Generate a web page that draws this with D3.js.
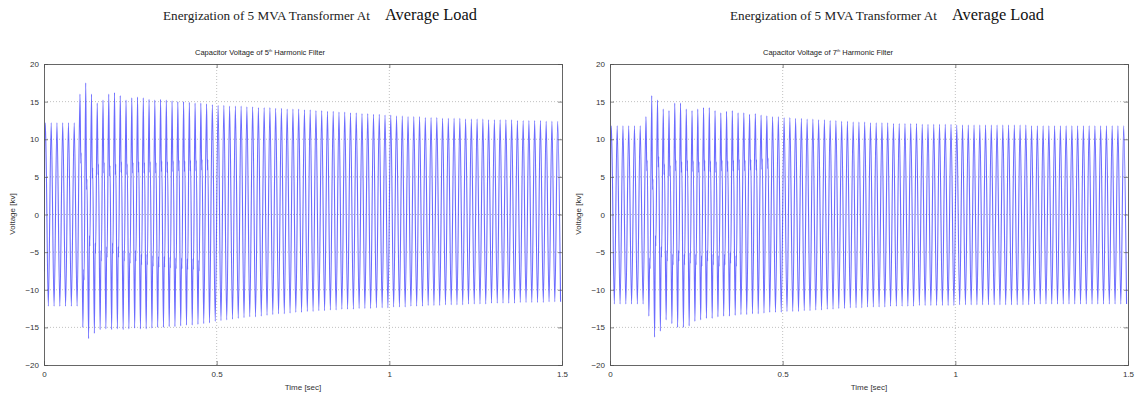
<!DOCTYPE html>
<html>
<head>
<meta charset="utf-8">
<script src="https://cdn.jsdelivr.net/npm/d3@7"></script>
<style>
  body { margin: 0; background: #fff; }
  svg { display: block; }
  .tick text { font-family: "Liberation Sans", Arial, sans-serif; font-size: 8px; fill: #333; }
</style>
</head>
<body>
<svg id="graph" width="1136" height="398"></svg>
<script>
// capacitor voltage, read per 60 Hz cycle off the scope traces (kV)
var freq = 60;
var xTicks = [0, 0.5, 1, 1.5];
var yTicks = [-20, -15, -10, -5, 0, 5, 10, 15, 20];

var start5 = [6.5, -7.5, 0];
var peaks5 = [12.2, 12.2, 12.2, 12.2, 12.2, 12.2,
  16.0, 17.5, 16.0, 14.8,
  15.2, 16.0, 16.2, 15.8, 15.2, 15.5, 15.6, 15.5, 15.3, 15.2,
  15.3, 15.2, 15.1, 15.0, 15.0, 14.9, 14.8, 14.8, 14.7, 14.6,
  14.5, 14.5, 14.4, 14.4, 14.4, 14.3, 14.3, 14.2, 14.2, 14.2,
  14.1, 14.1, 14.0, 14.0, 14.0, 13.9, 13.9, 13.8, 13.8, 13.7,
  13.7, 13.6, 13.6, 13.5, 13.5, 13.4, 13.4, 13.3, 13.3, 13.2,
  13.2, 13.1, 13.1, 13.0, 13.0, 13.0, 12.9, 12.9, 12.9, 12.8,
  12.8, 12.8, 12.8, 12.7, 12.7, 12.7, 12.7, 12.6, 12.6, 12.6,
  12.6, 12.6, 12.5, 12.5, 12.5, 12.5, 12.5, 12.4, 12.4, 12.4];
var troughs5 = [-12.2, -12.2, -12.2, -12.2, -12.2, -12.2,
  -15.0, -16.5, -15.8, -15.3,
  -15.2, -15.3, -15.2, -15.3, -15.2, -15.1, -15.2, -15.2, -15.1, -15.0,
  -15.0, -14.9, -14.9, -14.8, -14.7, -14.7, -14.6, -14.5, -14.4, -14.2,
  -14.1, -14.0, -13.9, -13.8, -13.7, -13.6, -13.6, -13.5, -13.4, -13.3,
  -13.2, -13.2, -13.1, -13.0, -13.0, -12.9, -12.9, -12.8, -12.8, -12.7,
  -12.7, -12.6, -12.6, -12.6, -12.5, -12.5, -12.5, -12.4, -12.4, -12.4,
  -12.3, -12.3, -12.3, -12.2, -12.2, -12.2, -12.1, -12.1, -12.1, -12.0,
  -12.0, -12.0, -12.0, -11.9, -11.9, -11.9, -11.9, -11.8, -11.8, -11.8,
  -11.8, -11.8, -11.7, -11.7, -11.7, -11.7, -11.7, -11.6, -11.6, -11.6];
// ringing level after energization (upper / lower knee of each cycle)
var kneeHi5 = [null, null, null, null, null, null,
  7.5, 4.0, 5.5, 6.0, 6.2, 5.8, 6.0, 6.3, 6.0, 6.2, 6.3, 6.2, 6.3, 6.2,
  6.4, 6.3, 6.4, 6.5, 6.4, 6.5, 6.5, 6.6, 6.6];
var kneeLo5 = [null, null, null, null, null, null,
  -8.0, -3.5, -4.5, -5.5, -5.0, -4.5, -5.0, -5.5, -5.8, -5.5, -6.0, -6.0, -6.2, -6.3,
  -6.3, -6.4, -6.5, -6.5, -6.6, -6.6, -6.8];

var start7 = [6.0, -8.0, 0];
var peaks7 = [11.8, 11.8, 11.8, 11.8, 11.8, 11.8,
  13.0, 15.8, 15.2, 14.0,
  13.8, 14.8, 14.8, 14.0, 13.8, 14.0, 14.2, 14.2, 13.8, 13.5,
  13.7, 13.8, 13.5, 13.5, 13.3, 13.4, 13.2, 13.1, 13.0, 13.0,
  12.9, 12.9, 12.8, 12.8, 12.7, 12.7, 12.6, 12.6, 12.5, 12.5,
  12.4, 12.4, 12.3, 12.3, 12.3, 12.2, 12.2, 12.2, 12.2, 12.1,
  12.1, 12.1, 12.1, 12.1, 12.0, 12.0, 12.0, 12.0, 12.0, 12.0,
  11.9, 11.9, 11.9, 11.9, 11.9, 11.9, 11.9, 11.9, 11.9, 11.9,
  11.9, 11.9, 11.9, 11.8, 11.8, 11.8, 11.8, 11.8, 11.8, 11.8,
  11.8, 11.8, 11.8, 11.8, 11.8, 11.8, 11.8, 11.8, 11.8, 11.8];
var troughs7 = [-11.9, -11.9, -11.9, -11.9, -11.9, -11.9,
  -13.5, -16.3, -15.5, -14.0,
  -14.5, -15.0, -15.0, -14.8, -14.2, -14.0, -13.8, -13.8, -13.6, -13.5,
  -13.5, -13.4, -13.3, -13.3, -13.2, -13.2, -13.1, -13.0, -13.0, -13.0,
  -12.9, -12.9, -12.9, -12.8, -12.8, -12.7, -12.7, -12.6, -12.6, -12.5,
  -12.5, -12.4, -12.4, -12.4, -12.3, -12.3, -12.3, -12.3, -12.2, -12.2,
  -12.2, -12.2, -12.2, -12.1, -12.1, -12.1, -12.1, -12.1, -12.1, -12.1,
  -12.0, -12.0, -12.0, -12.0, -12.0, -12.0, -12.0, -12.0, -12.0, -12.0,
  -12.0, -12.0, -12.0, -11.9, -11.9, -11.9, -11.9, -11.9, -11.9, -11.9,
  -11.9, -11.9, -11.9, -11.9, -11.9, -11.9, -11.9, -11.9, -11.9, -11.9];
var kneeHi7 = [null, null, null, null, null, null,
  6.5, 4.0, 7.0, 6.0, 5.8, 6.5, 6.3, 6.5, 6.4, 6.3, 6.5, 6.4, 6.3, 6.5,
  6.4, 6.5, 6.6, 6.5, 6.6, 6.6, 6.7, 6.8];
var kneeLo7 = [null, null, null, null, null, null,
  -6.5, -3.5, -5.0, -5.5, -6.0, -5.5, -6.0, -5.8, -6.0, -6.2, -5.5, -6.0, -6.2, -6.0,
  -5.8, -6.2];

var svg = d3.select("svg");

function tracePoints(start, peaks, troughs, kneeHi, kneeLo) {
  var pts = [];
  start.forEach(function(v, i) { pts.push([i * 0.0003, v]); });
  peaks.forEach(function(p, k) {
    pts.push([(k + 0.25) / freq, p]);
    if (kneeHi[k] != null) {
      pts.push([(k + 0.40) / freq, kneeHi[k] - 0.7]);
      pts.push([(k + 0.46) / freq, kneeHi[k] + 0.7]);
    }
    pts.push([(k + 0.75) / freq, troughs[k]]);
    if (kneeLo[k] != null) {
      pts.push([(k + 0.90) / freq, kneeLo[k] + 0.7]);
      pts.push([(k + 0.96) / freq, kneeLo[k] - 0.7]);
    }
  });
  return pts;
}

function drawPanel(o) {
  var x = d3.scaleLinear().domain([0, 1.5]).range([o.left, o.right]);
  var y = d3.scaleLinear().domain([-20, 20]).range([365, 64]);
  var g = svg.append("g");

  // grid
  g.append("g").selectAll("line").data(xTicks.slice(1, -1)).enter().append("line")
    .attr("x1", d => x(d)).attr("x2", d => x(d)).attr("y1", y(20)).attr("y2", y(-20))
    .attr("stroke", "#999").attr("stroke-width", 0.6).attr("stroke-dasharray", "1,2");
  g.append("g").selectAll("line").data(yTicks.slice(1, -1)).enter().append("line")
    .attr("x1", x(0)).attr("x2", x(1.5)).attr("y1", d => y(d)).attr("y2", d => y(d))
    .attr("stroke", "#999").attr("stroke-width", 0.6).attr("stroke-dasharray", "1,2");

  // trace
  var clipId = "clip" + o.id;
  svg.append("clipPath").attr("id", clipId).append("rect")
    .attr("x", x(0)).attr("y", y(20)).attr("width", x(1.5) - x(0)).attr("height", y(-20) - y(20));
  var line = d3.line().x(d => x(d[0])).y(d => y(d[1])).curve(d3.curveMonotoneX);
  g.append("path")
    .datum(tracePoints(o.start, o.peaks, o.troughs, o.kneeHi, o.kneeLo))
    .attr("clip-path", "url(#" + clipId + ")")
    .attr("fill", "none").attr("stroke", "#3a3aff").attr("stroke-width", 1.1)
    .attr("stroke-opacity", 0.75)
    .attr("d", line);

  // axes, matlab style box with inward ticks
  var ax = g.append("g").attr("transform", "translate(0," + y(-20) + ")")
    .call(d3.axisBottom(x).tickValues(xTicks).tickSize(-4).tickPadding(6).tickFormat(d3.format("")));
  var ay = g.append("g").attr("transform", "translate(" + x(0) + ",0)")
    .call(d3.axisLeft(y).tickValues(yTicks).tickSize(-4).tickPadding(5));
  g.append("g").attr("transform", "translate(0," + y(20) + ")")
    .call(d3.axisTop(x).tickValues(xTicks).tickSize(-4).tickFormat(""));
  g.append("g").attr("transform", "translate(" + x(1.5) + ",0)")
    .call(d3.axisRight(y).tickValues(yTicks).tickSize(-4).tickFormat(""));
  g.selectAll(".domain").attr("stroke", "#555").attr("stroke-width", 0.9);
  g.selectAll(".tick line").attr("stroke", "#555").attr("stroke-width", 0.7);
  ax.selectAll("text").attr("font-size", 8);
  ay.selectAll("text").attr("font-size", 8);

  // titles
  var sup = g.append("text").attr("x", o.supX).attr("y", 20)
    .attr("font-family", "'Liberation Serif', 'Times New Roman', serif").attr("fill", "#222");
  sup.append("tspan").attr("font-size", 12).attr("textLength", 207).attr("lengthAdjust", "spacingAndGlyphs")
    .text("Energization of 5 MVA Transformer At");
  g.append("text").attr("x", o.supX + 222).attr("y", 20)
    .attr("font-family", "'Liberation Serif', 'Times New Roman', serif").attr("font-size", 16).attr("fill", "#111")
    .attr("textLength", 92).attr("lengthAdjust", "spacingAndGlyphs")
    .text("Average Load");

  var sub = g.append("text").attr("x", o.subX).attr("y", 55)
    .attr("font-family", "'Liberation Sans', Arial, sans-serif").attr("font-size", 7.5).attr("fill", "#222");
  sub.append("tspan").text("Capacitor Voltage of " + o.order);
  sub.append("tspan").attr("font-size", 4).attr("dy", -3).text("th");
  sub.append("tspan").attr("dy", 3).text(" Harmonic Filter");

  g.append("text").attr("transform", "translate(" + (o.left - 29) + ",214) rotate(-90)")
    .attr("text-anchor", "middle").attr("font-family", "'Liberation Sans', Arial, sans-serif")
    .attr("font-size", 8).attr("fill", "#333").text("Voltage [kv]");
  g.append("text").attr("x", (o.left + o.right) / 2).attr("y", 390)
    .attr("text-anchor", "middle").attr("font-family", "'Liberation Sans', Arial, sans-serif")
    .attr("font-size", 8).attr("fill", "#333").text("Time [sec]");
}

drawPanel({id: 5, left: 44, right: 562, supX: 163, subX: 195, order: "5",
  start: start5, peaks: peaks5, troughs: troughs5, kneeHi: kneeHi5, kneeLo: kneeLo5});
drawPanel({id: 7, left: 610, right: 1128, supX: 730, subX: 763, order: "7",
  start: start7, peaks: peaks7, troughs: troughs7, kneeHi: kneeHi7, kneeLo: kneeLo7});
</script>
</body>
</html>
